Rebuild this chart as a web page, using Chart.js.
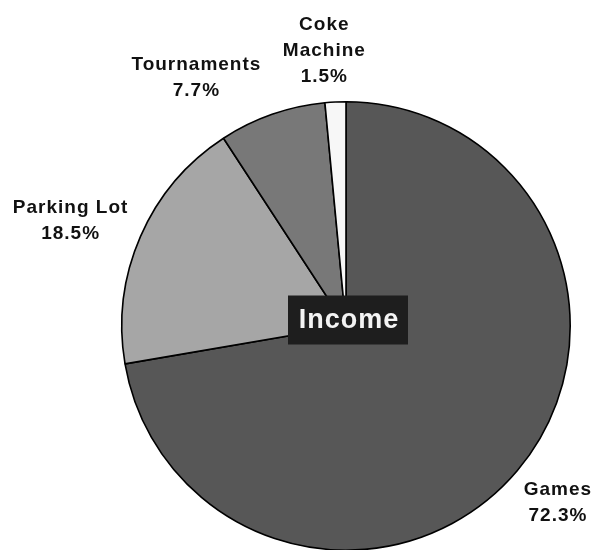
<!DOCTYPE html>
<html>
<head>
<meta charset="utf-8">
<script src="https://cdn.jsdelivr.net/npm/chart.js@4"></script>
<style>
  html, body { margin: 0; padding: 0; background: #ffffff; overflow: hidden; }
  #wrap { width: 599px; height: 556px; position: relative; }
</style>
</head>
<body>
<div id="wrap"><canvas id="c"></canvas></div>
<script>
// ---- data ----
const categories = ['Games', 'Parking Lot', 'Tournaments', 'Coke Machine'];
const labelLines = [['Games'], ['Parking Lot'], ['Tournaments'], ['Coke', 'Machine']];
const values = [72.3, 18.5, 7.7, 1.5];
const centerTitle = 'Income';

// ---- styles ----
const sliceColors = ['#575757', '#a6a6a6', '#787878', '#f7f7f7'];
// per-label nudges (dx, dy) relative to the default outside position
const labelNudge = [[-2, -3], [-20, 6], [-58, 15], [-9, 4]];

const outsideLabels = {
  id: 'outsideLabels',
  afterDatasetsDraw(chart) {
    const ctx = chart.ctx;
    const meta = chart.getDatasetMeta(0);
    ctx.save();
    ctx.font = 'bold 19px "Liberation Sans", Arial, sans-serif';
    ctx.fillStyle = '#111111';
    ctx.textAlign = 'center';
    ctx.textBaseline = 'middle';
    try { ctx.letterSpacing = '1px'; } catch (e) {}
    meta.data.forEach((arc, i) => {
      const p = arc.getProps(['x', 'y', 'startAngle', 'endAngle', 'outerRadius'], true);
      const mid = (p.startAngle + p.endAngle) / 2;
      const dist = p.outerRadius + 55;
      const cx = p.x + Math.cos(mid) * dist + labelNudge[i][0] + 0.5;
      const cy = p.y + Math.sin(mid) * dist + labelNudge[i][1];
      const lines = labelLines[i].concat([values[i].toFixed(1) + '%']);
      const lh = 26;
      const top = cy - (lines.length - 1) * lh / 2;
      lines.forEach((t, k) => ctx.fillText(t, cx, top + k * lh));
    });
    // center title box
    const a0 = meta.data[0];
    const bx = a0.x + 2, by = a0.y - 6;
    ctx.font = 'bold 27px "Liberation Sans", Arial, sans-serif';
    try { ctx.letterSpacing = '1px'; } catch (e) {}
    const w = 120, h = 49;
    ctx.fillStyle = '#1e1e1e';
    ctx.fillRect(bx - w / 2, by - h / 2, w, h);
    ctx.fillStyle = '#f4f4f4';
    ctx.fillText(centerTitle, bx + 1, by + 1);
    ctx.restore();
  }
};

new Chart(document.getElementById('c'), {
  type: 'pie',
  data: {
    labels: categories,
    datasets: [{
      data: values,
      backgroundColor: sliceColors,
      borderColor: '#000000',
      borderWidth: 1.6
    }]
  },
  options: {
    responsive: true,
    maintainAspectRatio: false,
    animation: false,
    layout: { padding: { left: 121, right: 28, top: 101, bottom: 5 } },
    plugins: {
      legend: { display: false },
      tooltip: { enabled: false },
      title: { display: false }
    }
  },
  plugins: [outsideLabels]
});
</script>
</body>
</html>
